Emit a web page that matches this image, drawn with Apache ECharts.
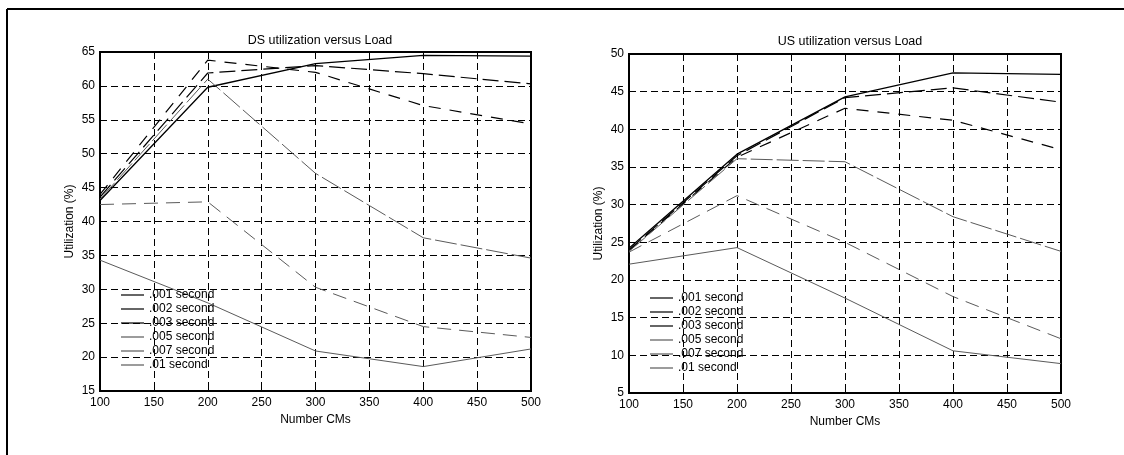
<!DOCTYPE html>
<html>
<head>
<meta charset="utf-8">
<script src="https://cdn.jsdelivr.net/npm/echarts@6/dist/echarts.min.js"></script>
<style>
html,body{margin:0;padding:0;background:#fff;}
#c{width:1124px;height:455px;}
</style>
</head>
<body>
<div id="c"></div>
<script>
// Data
const cms = [100, 200, 300, 400, 500];
const names = ['.001 second', '.002 second', '.003 second', '.005 second', '.007 second', '.01 second'];

// DS utilization (%)
const ds001 = [43.1, 59.8, 63.3, 64.5, 64.4];
const ds002 = [43.6, 61.9, 63.0, 61.8, 60.3];
const ds003 = [44.0, 63.8, 62.0, 57.1, 54.4];
const ds005 = [43.3, 61.0, 47.1, 37.6, 34.6];
const ds007 = [42.5, 42.9, 30.3, 24.5, 22.9];
const ds01  = [34.3, 28.0, 20.9, 18.6, 21.2];

// US utilization (%)
const us001 = [24.2, 36.7, 44.3, 47.5, 47.3];
const us002 = [24.0, 36.5, 44.2, 45.5, 43.6];
const us003 = [23.9, 36.3, 42.8, 41.2, 37.3];
const us005 = [23.8, 36.1, 35.7, 28.4, 23.8];
const us007 = [23.7, 31.2, 25.0, 17.8, 12.2];
const us01  = [22.1, 24.3, 17.6, 10.6, 8.9];

const dsSets = [ds001, ds002, ds003, ds005, ds007, ds01];
const usSets = [us001, us002, us003, us005, us007, us01];

const styles = [
  {color: '#000', width: 1.3, type: 'solid'},
  {color: '#000', width: 1.2, type: [16, 6]},
  {color: '#000', width: 1.2, type: [12, 9]},
  {color: '#5a5a5a', width: 1, type: [22, 4]},
  {color: '#5a5a5a', width: 1, type: [14, 8]},
  {color: '#5a5a5a', width: 1, type: 'solid'}
];

const FONT = 'Liberation Sans, Arial, sans-serif';

function makeSeries(sets, idx) {
  return sets.map((vals, i) => ({
    name: names[i],
    type: 'line',
    xAxisIndex: idx,
    yAxisIndex: idx,
    symbol: 'none',
    animation: false,
    color: styles[i].color,
    itemStyle: {color: styles[i].color},
    lineStyle: {color: styles[i].color, width: styles[i].width, type: styles[i].type},
    data: cms.map((x, k) => [x, vals[k]])
  }));
}

function xAxis(gi) {
  return {
    type: 'value', gridIndex: gi, min: 100, max: 500, interval: 50,
    name: 'Number CMs', nameLocation: 'middle', nameGap: 22,
    nameTextStyle: {color: '#000', fontSize: 12, fontFamily: FONT},
    axisLine: {show: true, lineStyle: {color: '#000', width: 2}},
    axisTick: {show: true, inside: true, length: 5, lineStyle: {color: '#000'}},
    axisLabel: {color: '#000', fontSize: 12, fontFamily: FONT, margin: 6},
    splitLine: {show: true, lineStyle: {color: '#000', width: 1, type: [7, 4]}}
  };
}
function yAxis(gi, min, max) {
  return {
    type: 'value', gridIndex: gi, min: min, max: max, interval: 5,
    name: 'Utilization (%)', nameLocation: 'middle', nameGap: 24, nameRotate: 90,
    nameTextStyle: {color: '#000', fontSize: 12, fontFamily: FONT},
    axisLine: {show: true, lineStyle: {color: '#000', width: 2}},
    axisTick: {show: true, inside: true, length: 5, lineStyle: {color: '#000'}},
    axisLabel: {color: '#000', fontSize: 12, fontFamily: FONT, margin: 5},
    splitLine: {show: true, lineStyle: {color: '#000', width: 1, type: [7, 4]}}
  };
}
function legend(left, top) {
  return {
    orient: 'vertical', left: left, top: top, padding: 0,
    itemWidth: 23, itemHeight: 14, itemGap: 2,
    icon: 'path://M0,0 L23,0 L23,1.2 L0,1.2 Z',
    data: names,
    selectedMode: false,
    textStyle: {color: '#000', fontSize: 12, fontFamily: FONT},
    backgroundColor: 'transparent'
  };
}

const chart = echarts.init(document.getElementById('c'), null, {renderer: 'canvas'});
chart.setOption({
  backgroundColor: '#fff',
  animation: false,
  title: [
    {text: 'DS utilization versus Load', left: 315, top: 29, textAlign: 'center',
     textStyle: {color: '#000', fontSize: 12.5, fontWeight: 'normal', fontFamily: FONT}},
    {text: 'US utilization versus Load', left: 845, top: 30, textAlign: 'center',
     textStyle: {color: '#000', fontSize: 12.5, fontWeight: 'normal', fontFamily: FONT}}
  ],
  grid: [
    {left: 100, top: 52, width: 431, height: 339, show: true, borderColor: '#000', borderWidth: 2, backgroundColor: 'transparent', containLabel: false},
    {left: 629, top: 54, width: 432, height: 339, show: true, borderColor: '#000', borderWidth: 2, backgroundColor: 'transparent', containLabel: false}
  ],
  xAxis: [xAxis(0), xAxis(1)],
  yAxis: [yAxis(0, 15, 65), yAxis(1, 5, 50)],
  legend: [legend(121, 289), legend(650, 292)],
  graphic: [
    {type: 'line', shape: {x1: 7, y1: 9, x2: 1124, y2: 9}, style: {stroke: '#000', lineWidth: 2}},
    {type: 'line', shape: {x1: 7, y1: 9, x2: 7, y2: 455}, style: {stroke: '#000', lineWidth: 2}}
  ],
  series: makeSeries(dsSets, 0).concat(makeSeries(usSets, 1))
});
</script>
</body>
</html>
